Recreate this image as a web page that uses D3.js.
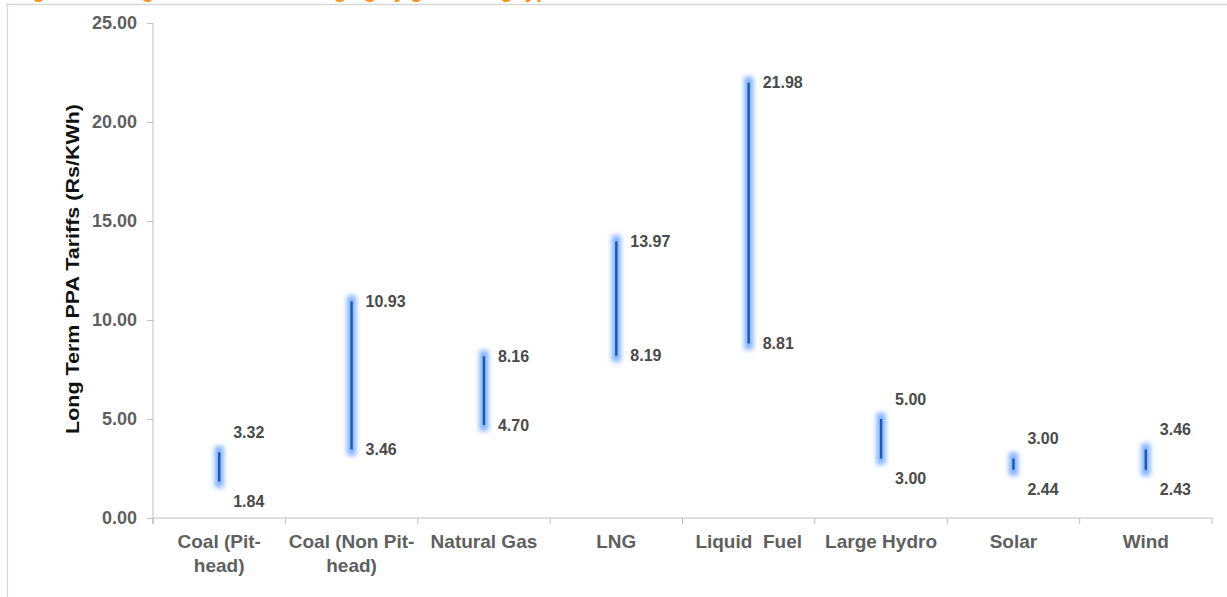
<!DOCTYPE html>
<html>
<head>
<meta charset="utf-8">
<script src="https://cdn.jsdelivr.net/npm/d3@7"></script>
<style>
  html, body { margin: 0; padding: 0; background: #fff; overflow: hidden; }
  #chart { width: 1227px; height: 597px; }
  text { font-family: "Liberation Sans", Arial, sans-serif; font-weight: bold; }
</style>
</head>
<body>
<div id="chart"></div>
<script>
// ── Data ────────────────────────────────────────────────────────────────
const categories = ["Coal (Pit-head)", "Coal (Non Pit-head)", "Natural Gas", "LNG",
                    "Liquid  Fuel", "Large Hydro", "Solar", "Wind"];
const lowValues  = [1.84, 3.46, 4.70, 8.19, 8.81, 3.00, 2.44, 2.43];
const highValues = [3.32, 10.93, 8.16, 13.97, 21.98, 5.00, 3.00, 3.46];
const yTicks = [0, 5, 10, 15, 20, 25];
const yTitle = "Long Term PPA Tariffs (Rs/KWh)";
const chartTitle = "Figure 7: Long term PPA tariff ranging by generating type";

// ── Palette ─────────────────────────────────────────────────────────────
const AXIS_C = "#bfbfbf";
const TICK_TXT = "#5f5f5f";
const LABEL_TXT = "#4a4a4a";
const BAR_C = "#1c5aa6";
const GLOW_C = "#7fb0ff";
const ORANGE = "#f7941d";

function render() {
  const W = 1227, H = 597;
  const margin = { top: 23, right: 15, bottom: 79, left: 153 };
  const width = W - margin.left - margin.right;
  const height = H - margin.top - margin.bottom;

  const root = d3.select("#chart").append("svg")
    .attr("width", W).attr("height", H);

  // glow filter for the range bars
  const defs = root.append("defs");
  const f = defs.append("filter").attr("id", "glow")
    .attr("x", "-200%").attr("y", "-20%").attr("width", "500%").attr("height", "140%");
  f.append("feGaussianBlur").attr("stdDeviation", 2.6);

  // orange title, cut by the top edge as in the source image + frame
  root.append("text")
    .attr("x", 15).attr("y", -2)
    .attr("fill", ORANGE).style("font-size", "20px")
    .text(chartTitle);
  root.append("line")
    .attr("x1", 6).attr("x2", W).attr("y1", 4.5).attr("y2", 4.5)
    .attr("stroke", "#d6d6d6").attr("stroke-width", 1.5);
  root.append("line")
    .attr("x1", 7.5).attr("x2", 7.5).attr("y1", 4).attr("y2", H)
    .attr("stroke", "#d6d6d6").attr("stroke-width", 1.2);

  const svg = root.append("g").attr("transform", `translate(${margin.left},${margin.top})`);

  const x = d3.scaleBand().domain(categories).range([0, width]).padding(0);
  const y = d3.scaleLinear().domain([0, 25]).range([height, 0]);

  // Y axis
  const yAxis = svg.append("g")
    .call(d3.axisLeft(y).tickValues(yTicks).tickFormat(d3.format(".2f")).tickSize(6).tickPadding(10));
  yAxis.selectAll("text").attr("fill", TICK_TXT).style("font-size", "18px");
  yAxis.selectAll("line").attr("stroke", AXIS_C);
  yAxis.select(".domain").attr("stroke", AXIS_C).attr("d", `M0,${y(25)}V${height + 6}`);

  // X axis (ticks at category boundaries)
  const xAxis = svg.append("g").attr("transform", `translate(0,${height})`);
  xAxis.append("line").attr("x1", 0).attr("x2", width).attr("stroke", AXIS_C);
  xAxis.selectAll(".xt").data(categories.concat([null])).enter().append("line")
    .attr("x1", (d, i) => i * x.step()).attr("x2", (d, i) => i * x.step())
    .attr("y1", 0).attr("y2", 6).attr("stroke", AXIS_C);

  // category labels, broken after a hyphen like the source
  categories.forEach(c => {
    const t = xAxis.append("text")
      .attr("x", x(c) + x.bandwidth() / 2).attr("y", 30)
      .attr("text-anchor", "middle").attr("fill", TICK_TXT)
      .style("font-size", "19px").style("white-space", "pre");
    c.split(/(?<=-)/).forEach((ln, i) => {
      t.append("tspan").attr("x", x(c) + x.bandwidth() / 2).attr("dy", i ? 24 : 0).text(ln);
    });
  });

  // Y title
  svg.append("text")
    .attr("transform", "rotate(-90)")
    .attr("x", -(269 - margin.top)).attr("y", -74)
    .attr("text-anchor", "middle").attr("fill", "#111")
    .attr("textLength", 330).attr("lengthAdjust", "spacingAndGlyphs")
    .style("font-size", "19px")
    .text(yTitle);

  // Range bars
  const rows = categories.map((c, i) => ({ c, lo: lowValues[i], hi: highValues[i] }));
  const cx = d => x(d.c) + x.bandwidth() / 2;

  svg.selectAll(".glow").data(rows).enter().append("rect")
    .attr("x", d => cx(d) - 4.5).attr("width", 9)
    .attr("y", d => y(d.hi) - 6).attr("height", d => y(d.lo) - y(d.hi) + 12)
    .attr("fill", GLOW_C).attr("filter", "url(#glow)");

  svg.selectAll(".bar").data(rows).enter().append("line")
    .attr("x1", cx).attr("x2", cx)
    .attr("y1", d => y(d.hi)).attr("y2", d => y(d.lo))
    .attr("stroke", BAR_C).attr("stroke-width", 2.4);

  // Value labels (pushed apart when the bar is short)
  const labY = (d, top) => {
    const short = y(d.lo) - y(d.hi) < 50;
    if (top) return short ? y(d.hi) - 20 : y(d.hi);
    return short ? y(d.lo) + 20 : y(d.lo);
  };
  [true, false].forEach(top => {
    svg.selectAll(".val" + top).data(rows).enter().append("text")
      .attr("x", d => cx(d) + 14)
      .attr("y", d => labY(d, top))
      .attr("dy", "0.35em")
      .attr("fill", LABEL_TXT).style("font-size", "16px")
      .text(d => (top ? d.hi : d.lo).toFixed(2));
  });
}

render();
</script>
</body>
</html>
